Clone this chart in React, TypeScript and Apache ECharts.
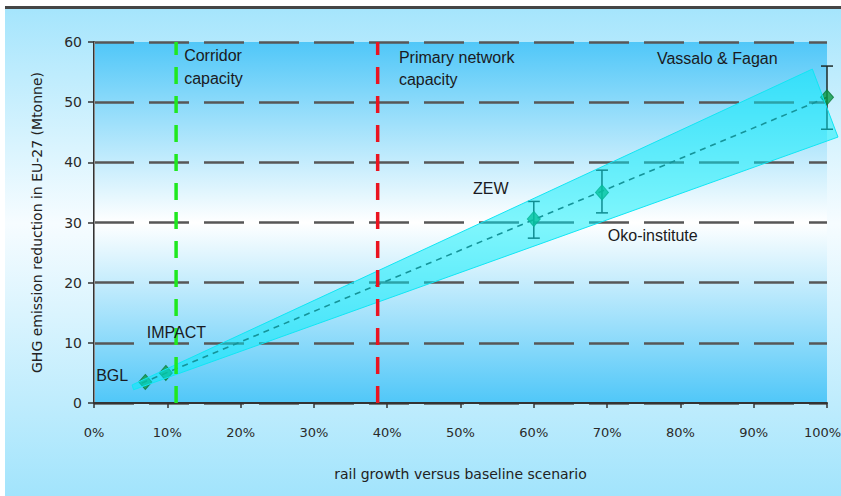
import React, { useEffect, useRef } from "react";
import * as echarts from "echarts";

// ---- data ----
const POINT_NAMES = ["BGL", "IMPACT", "ZEW", "Oko-institute", "Vassalo & Fagan"];
const POINT_X = [7.0, 9.8, 60, 69.3, 100];
const POINT_Y = [3.5, 5.0, 30.6, 35.0, 50.8];
const ERR_LOW = [null, null, 27.4, 31.6, 45.5];
const ERR_HIGH = [null, null, 33.5, 38.7, 56.0];

const TREND_X = [6.5, 100];
const TREND_Y = [3.3, 50.8];

const BAND_X = [5.2, 98, 101.5, 5.4];
const BAND_Y = [3.0, 55.5, 44.2, 2.2];

const CORRIDOR_X = 11.2;
const PRIMARY_X = 38.7;

const LABEL_TEXT = ["Corridor", "capacity", "Primary network", "capacity", "Vassalo & Fagan", "ZEW", "Oko-institute", "IMPACT", "BGL"];
const LABEL_X = [12.3, 12.3, 41.6, 41.6, 76.8, 51.7, 70.1, 7.2, 0.3];
const LABEL_Y = [57.8, 54.0, 57.4, 53.7, 57.3, 35.7, 27.9, 11.8, 4.5];

const X_TICKS = [0, 10, 20, 30, 40, 50, 60, 70, 80, 90, 100];
const Y_TICKS = [0, 10, 20, 30, 40, 50, 60];

export default function App() {
  const ref = useRef<HTMLDivElement>(null);

  useEffect(() => {
    document.body.style.margin = "0";
    if (!ref.current) return;
    const chart = echarts.init(ref.current, null, { renderer: "svg", width: 841, height: 496 });

    const points = POINT_X.map((x, i) => [x, POINT_Y[i]]);
    const errData = POINT_X.map((x, i) => [x, ERR_LOW[i], ERR_HIGH[i]]).filter((d) => d[1] !== null);
    const bandData = BAND_X.map((x, i) => [x, BAND_Y[i]]);
    const labelData = LABEL_X.map((x, i) => [x, LABEL_Y[i], LABEL_TEXT[i]]);
    const xMax = X_TICKS[X_TICKS.length - 1];

    const option: any = {
      animation: false,
      backgroundColor: {
        type: "linear", x: 0, y: 0, x2: 0, y2: 1,
        colorStops: [
          { offset: 0, color: "#a2e4fc" },
          { offset: 0.45, color: "#f6fcff" },
          { offset: 1, color: "#a2e4fc" },
        ],
      },
      graphic: [
        { type: "rect", shape: { x: 0, y: 0, width: 5, height: 496 }, style: { fill: "#ffffff" }, silent: true },
        { type: "rect", shape: { x: 0, y: 0, width: 841, height: 6 }, style: { fill: "#ffffff" }, silent: true },
        { type: "rect", shape: { x: 5, y: 6, width: 836, height: 3 }, style: { fill: "#454545" }, silent: true },
      ],
      grid: {
        left: 94, right: 14, top: 42, bottom: 93,
        outerBoundsMode: "none",
        containLabel: false,
        show: true,
        borderWidth: 0,
        backgroundColor: {
          type: "linear", x: 0, y: 0, x2: 0, y2: 1,
          colorStops: [
            { offset: 0, color: "#50c7f8" },
            { offset: 0.5, color: "#ffffff" },
            { offset: 1, color: "#50c7f8" },
          ],
        },
      },
      xAxis: {
        type: "value", min: 0, max: 100, interval: 10,
        name: "rail growth versus baseline scenario",
        nameLocation: "middle", nameGap: 64,
        nameTextStyle: { fontFamily: "DejaVu Sans", fontSize: 14, color: "#222" },
        axisLine: { show: true, onZero: false, lineStyle: { color: "#333", width: 2 } },
        axisTick: { show: true, length: 5, lineStyle: { color: "#333", width: 1.5 } },
        axisLabel: {
          margin: 23, fontFamily: "DejaVu Sans", fontSize: 13, color: "#2a2a2a",
          formatter: (v: number) => {
            if (!X_TICKS.includes(v)) return "";
            return v === xMax ? "{m|" + v + "%}" : v + "%";
          },
          rich: {
            m: { fontFamily: "DejaVu Sans", fontSize: 13, color: "#2a2a2a", padding: [0, 9, 0, 0] },
          },
        },
        splitLine: { show: false },
      },
      yAxis: [
        {
          type: "value", min: 0, max: 60, interval: 10,
          name: "GHG emission reduction in EU-27 (Mtonne)",
          nameLocation: "middle", nameGap: 50, nameRotate: 90,
          nameTextStyle: { fontFamily: "DejaVu Sans", fontSize: 14, color: "#222" },
          axisLine: { show: true, onZero: false, lineStyle: { color: "#333", width: 2 } },
          axisTick: { show: true, length: 6, lineStyle: { color: "#333", width: 1.5 } },
          axisLabel: {
            margin: 12, fontFamily: "DejaVu Sans", fontSize: 14, color: "#2a2a2a",
            formatter: (v: number) => (Y_TICKS.includes(v) ? String(v) : ""),
          },
          splitLine: { show: true, lineStyle: { color: "#575757", width: 2.5, type: [40, 15] } },
        },
        {
          type: "value", min: 0, max: 60, interval: 10, position: "right",
          axisLine: { show: true, lineStyle: { color: "#8a8a8a", width: 1 } },
          axisTick: { show: false }, axisLabel: { show: false }, splitLine: { show: false },
        },
      ],
      series: [
        {
          type: "line", data: TREND_X.map((x, i) => [x, TREND_Y[i]]),
          showSymbol: false, symbol: "none", z: 2,
          lineStyle: { color: "#2a3a3a", width: 1.6, type: [6, 5] },
        },
        {
          type: "custom", z: 2, data: errData,
          renderItem: (params: any, api: any) => {
            const x = api.value(0);
            const lo = api.coord([x, api.value(1)]);
            const hi = api.coord([x, api.value(2)]);
            const w = 6;
            const style = { stroke: "#1e2a28", lineWidth: 1.5 };
            return {
              type: "group",
              children: [
                { type: "line", shape: { x1: lo[0], y1: lo[1], x2: hi[0], y2: hi[1] }, style },
                { type: "line", shape: { x1: lo[0] - w, y1: lo[1], x2: lo[0] + w, y2: lo[1] }, style },
                { type: "line", shape: { x1: hi[0] - w, y1: hi[1], x2: hi[0] + w, y2: hi[1] }, style },
              ],
            };
          },
        },
        {
          type: "scatter", name: "studies", data: points, z: 3,
          symbol: "diamond", symbolSize: [13, 15],
          itemStyle: { color: "#0a9a45", borderColor: "#0b7a38", borderWidth: 1 },
        },
        {
          type: "custom", z: 4, data: bandData, clip: false,
          renderItem: (params: any, api: any) => {
            if (params.dataIndex !== 0) return null;
            const pts = BAND_X.map((x, i) => api.coord([x, BAND_Y[i]]));
            return {
              type: "polygon",
              shape: { points: pts },
              style: { fill: "rgba(0,238,250,0.5)", stroke: "#10e6f4", lineWidth: 1 },
            };
          },
        },
        {
          type: "line", data: [[CORRIDOR_X, 0], [CORRIDOR_X, 60]], showSymbol: false, symbol: "none", z: 5,
          lineStyle: { color: "#1fe81f", width: 3.5, type: [17, 12] },
        },
        {
          type: "line", data: [[PRIMARY_X, 0], [PRIMARY_X, 60]], showSymbol: false, symbol: "none", z: 5,
          lineStyle: { color: "#ea1420", width: 3.5, type: [17, 12] },
        },
        {
          type: "custom", z: 6, data: labelData, clip: false,
          renderItem: (params: any, api: any) => {
            const d = labelData[params.dataIndex];
            const p = api.coord([d[0], d[1]]);
            return {
              type: "text",
              x: p[0], y: p[1],
              style: {
                text: d[2],
                fill: "#1a1a22",
                fontFamily: "Liberation Sans",
                fontSize: 16,
                align: "left",
                verticalAlign: "middle",
              },
            };
          },
        },
      ],
    };

    chart.setOption(option);
    return () => chart.dispose();
  }, []);

  return <div ref={ref} style={{ width: 841, height: 496 }} />;
}
